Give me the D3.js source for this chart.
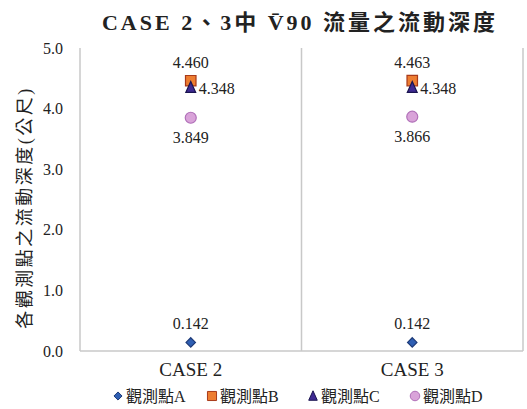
<!DOCTYPE html>
<html>
<head>
<meta charset="utf-8">
<script src="https://cdn.jsdelivr.net/npm/d3@7"></script>
<style>
  html, body { margin: 0; padding: 0; background: #fff; }
  svg { display: block; }
</style>
</head>
<body>
<svg id="chart" width="527" height="409"></svg>
<script>
// Flow depth at each observation point, per case
const cases = ["CASE 2", "CASE 3"];
const seriesNames = ["觀測點A", "觀測點B", "觀測點C", "觀測點D"];
const pointA = [0.142, 0.142];
const pointB = [4.460, 4.463];
const pointC = [4.348, 4.348];
const pointD = [3.849, 3.866];
const yTicks = [0, 1, 2, 3, 4, 5];

const SERIF = "'Liberation Serif', 'Times New Roman', 'Noto Sans CJK TC', serif";

// Square diamond (rotated square) symbol
const symbolRhombus = {
  draw(ctx, size) {
    const r = Math.sqrt(size / 2);
    ctx.moveTo(0, -r); ctx.lineTo(r, 0); ctx.lineTo(0, r); ctx.lineTo(-r, 0); ctx.closePath();
  }
};
// Narrow upright triangle
const symbolTri = {
  draw(ctx, size) {
    const h = Math.sqrt(size * 1.6), w = h * 0.45;
    ctx.moveTo(0, -h * 0.55); ctx.lineTo(w, h * 0.45); ctx.lineTo(-w, h * 0.45); ctx.closePath();
  }
};

const series = [
  { name: seriesNames[0], values: pointA, shape: symbolRhombus, size: 44, fill: "#2f5fb3", stroke: "#1d3a78", label: "above" },
  { name: seriesNames[1], values: pointB, shape: d3.symbolSquare, size: 110, fill: "#ed7d31", stroke: "#a83a1a", label: "above" },
  { name: seriesNames[2], values: pointC, shape: symbolTri, size: 75, fill: "#3f2a93", stroke: "#1a1450", label: "right" },
  { name: seriesNames[3], values: pointD, shape: d3.symbolCircle, size: 95, fill: "#d9a3d9", stroke: "#b070b8", label: "below" }
];

const svg = d3.select("#chart");
const plot = { left: 80, right: 523, top: 48, bottom: 351 };

const x = d3.scaleBand().domain(cases).range([plot.left, plot.right]);
const y = d3.scaleLinear().domain([0, 5]).range([plot.bottom, plot.top]);

// Title
svg.append("text")
  .attr("x", 300).attr("y", 30)
  .attr("text-anchor", "middle")
  .style("font-family", SERIF)
  .style("font-size", "22px").style("font-weight", "bold")
  .style("letter-spacing", "3px")
  .attr("fill", "#222")
  .text("CASE 2、3中 V\u030490 流量之流動深度");

// Y axis title
svg.append("text")
  .attr("transform", `translate(31,${(plot.top + plot.bottom) / 2 + 8}) rotate(-90)`)
  .attr("text-anchor", "middle")
  .style("font-family", SERIF)
  .style("font-size", "18px")
  .style("letter-spacing", "2.5px")
  .attr("fill", "#222")
  .text("各觀測點之流動深度(公尺)");

// Y tick labels
const yAxis = d3.axisLeft(y).tickValues(yTicks).tickFormat(d3.format(".1f")).tickSize(0).tickPadding(17);
const gy = svg.append("g").attr("transform", `translate(${plot.left},0)`).call(yAxis);
gy.select(".domain").remove();
gy.attr("font-family", null);
gy.selectAll("text").style("font-size", "16px").style("font-family", SERIF).attr("fill", "#222");

// Category separators and frame
const sepColor = "#c8c8c8";
const bounds = [plot.left].concat(cases.map(c => x(c) + x.bandwidth()));
svg.append("g").selectAll("line").data(bounds).join("line")
  .attr("x1", d => d).attr("x2", d => d)
  .attr("y1", plot.top).attr("y2", plot.bottom)
  .attr("stroke", sepColor).attr("stroke-width", 1.5);
svg.append("line")
  .attr("x1", plot.left).attr("x2", plot.right)
  .attr("y1", plot.bottom).attr("y2", plot.bottom)
  .attr("stroke", sepColor).attr("stroke-width", 1.5);

// Category labels
const xAxis = d3.axisBottom(x).tickSize(0).tickPadding(12);
const gx = svg.append("g").attr("transform", `translate(0,${plot.bottom})`).call(xAxis);
gx.select(".domain").remove();
gx.attr("font-family", null);
gx.selectAll("text").style("font-size", "19px").style("font-family", SERIF).attr("fill", "#222");

// Markers and value labels
series.forEach(s => {
  const g = svg.append("g");
  cases.forEach((c, i) => {
    const cx = x(c) + x.bandwidth() / 2;
    const cy = y(s.values[i]);
    g.append("path")
      .attr("d", d3.symbol().type(s.shape).size(s.size)())
      .attr("transform", `translate(${cx},${cy})`)
      .attr("fill", s.fill).attr("stroke", s.stroke).attr("stroke-width", 1.2);
    const t = g.append("text")
      .style("font-family", SERIF).style("font-size", "16px").attr("fill", "#222")
      .text(d3.format(".3f")(s.values[i]));
    if (s.label === "above") t.attr("x", cx).attr("y", cy - 13).attr("text-anchor", "middle");
    else if (s.label === "below") t.attr("x", cx).attr("y", cy + 25).attr("text-anchor", "middle");
    else t.attr("x", cx + 8).attr("y", cy + 6).attr("text-anchor", "start");
  });
});

// Legend
const legendX = [118, 212, 313, 415];
const lg = svg.append("g");
series.forEach((s, i) => {
  const gi = lg.append("g").attr("transform", `translate(${legendX[i]},396)`);
  gi.append("path")
    .attr("d", d3.symbol().type(s.shape).size(s.size * 0.75)())
    .attr("fill", s.fill).attr("stroke", s.stroke).attr("stroke-width", 1);
  gi.append("text").attr("x", 8).attr("y", 6)
    .style("font-size", "16px")
    .style("font-family", SERIF)
    .attr("fill", "#222")
    .text(s.name);
});
</script>
</body>
</html>
